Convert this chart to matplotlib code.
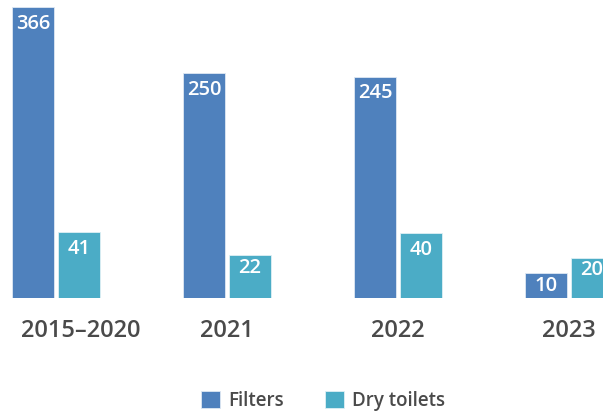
import numpy as np
import matplotlib
matplotlib.use("Agg")
import matplotlib.pyplot as plt
import matplotlib.transforms as mtransforms

plt.rcParams['font.family'] = ['Open Sans', 'DejaVu Sans']

categories = ["2015–2020", "2021", "2022", "2023"]
filters = [366, 250, 245, 10]
dry_toilets = [41, 22, 40, 20]
series_names = ["Filters", "Dry toilets"]

c_filters = "#4F81BD"
c_dry = "#4BACC6"
text_col = "#4a4a4a"

fig = plt.figure(figsize=(6.03, 4.18), dpi=100)
ax = fig.add_axes([0, 120 / 418, 1, (298 - 7) / 418])

p = 0.68
ax.set_yscale('function', functions=(lambda v: np.sign(v) * np.abs(v) ** p,
                                      lambda v: np.sign(v) * np.abs(v) ** (1 / p)))

x = np.arange(len(categories))
w = 0.246
off = 0.135
b1 = ax.bar(x - off, filters, w, color=c_filters, edgecolor="#dfe8f3", linewidth=0.6, label=series_names[0])
b2 = ax.bar(x + off, dry_toilets, w, color=c_dry, edgecolor="#dff0f4", linewidth=0.6, label=series_names[1])

for bars, vals in ((b1, filters), (b2, dry_toilets)):
    for r, v in zip(bars, vals):
        off_pt = -5 if v > 30 else -2
        ax.annotate(str(v), (r.get_x() + r.get_width() / 2, v), xytext=(0, off_pt),
                    textcoords='offset points', ha='center', va='top',
                    color='white', fontsize=14.5, fontweight='semibold')

ax.set_ylim(0, 366)
ax.set_xlim(-56 / 171, (603 - 56) / 171)
ax.set_xticks(x)
ax.set_xticklabels(categories, fontsize=17, color=text_col, fontweight='semibold')
ax.tick_params(axis='x', length=0, pad=15)
ax.set_yticks([])
for s in ax.spines.values():
    s.set_visible(False)

# shift first label so it fits inside the figure
lab0 = ax.get_xticklabels()[0]
lab0.set_transform(lab0.get_transform() + mtransforms.ScaledTranslation(25 / 100, 0, fig.dpi_scale_trans))

fig.legend(handles=[b1, b2], labels=series_names, loc='center',
           bbox_to_anchor=(323 / 603, 17 / 418), ncol=2, frameon=False,
           prop={'size': 13.5, 'weight': 'semibold'}, handlelength=1.0, handleheight=1.0,
           handletextpad=0.45, columnspacing=2.2, labelcolor=text_col)

fig.savefig("out.png", dpi=100)
